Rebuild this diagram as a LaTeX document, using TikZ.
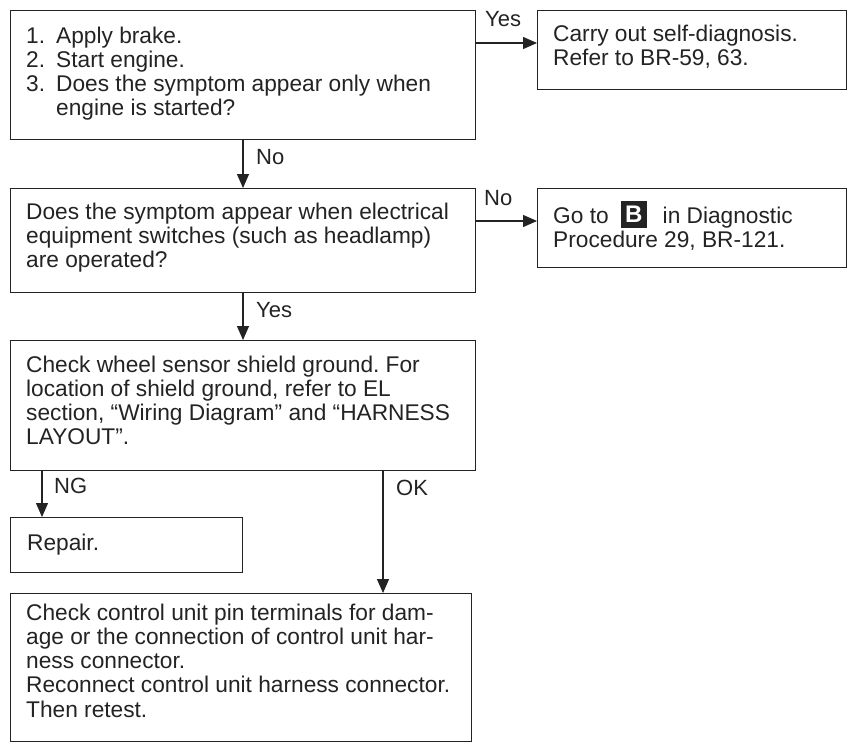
\documentclass[tikz,border=0pt]{standalone}
\usepackage{fontspec}
\setmainfont{Liberation Sans}
\usetikzlibrary{arrows.meta,calc}
\definecolor{ink}{RGB}{35,35,35}
\frenchspacing
\newcommand\fs{\rule{0pt}{17pt}}
\newcommand\Bicon{\raisebox{-5pt}{\setlength\fboxsep{0pt}\colorbox{ink}{\parbox[b][27pt][c]{26pt}{\centering\color{white}\fontsize{24}{24}\selectfont\bfseries B}}}}
\begin{document}
\begin{tikzpicture}[x=1pt,y=-1pt,
  box/.style={draw=ink, line width=1.3pt, anchor=north west, inner sep=0pt},
  txt/.style={anchor=north west, inner sep=0pt, align=left, text=ink, font=\fontsize{22.7}{24.2}\selectfont\frenchspacing},
  lbl/.style={anchor=base west, inner sep=0pt, text=ink, font=\fontsize{22}{24}\selectfont},
  arr/.style={draw=ink, line width=1.3pt, -{Triangle[length=14pt,width=12pt]}}]
\useasboundingbox (0,0) rectangle (848,744);
% boxes
\node[box, minimum width=465pt, minimum height=129pt] (b1) at (10,10) {};
\node[box, minimum width=309pt, minimum height=79pt] (b2) at (537,10) {};
\node[box, minimum width=465pt, minimum height=104pt] (b3) at (10,188) {};
\node[box, minimum width=309pt, minimum height=79pt] (b4) at (537,188) {};
\node[box, minimum width=465pt, minimum height=130pt] (b5) at (10,340) {};
\node[box, minimum width=232pt, minimum height=55pt] (b6) at (10,517) {};
\node[box, minimum width=461pt, minimum height=148pt] (b7) at (10,593) {};
% texts
\node[txt] (t1) at (26,26) {\fs\makebox[30pt][l]{1.}Apply brake.\\
  \makebox[30pt][l]{2.}Start engine.\\
  \makebox[30pt][l]{3.}Does the symptom appear only when\\
  \hspace*{30pt}engine is started?};
\node[txt] (t2) at (553,24) {\fs Carry out self-diagnosis.\\Refer to BR-59, 63.};
\node[txt] (t3) at (26,202) {\fs Does the symptom appear when electrical\\equipment switches (such as headlamp)\\are operated?};
\node[txt] (t4) at (553,201) {\fs Go to\hspace{12pt}\Bicon\hspace{16pt}in Diagnostic\\Procedure 29, BR-121.};
\node[txt] (t5) at (26,355) {\fs Check wheel sensor shield ground. For\\location of shield ground, refer to EL\\section, “Wiring Diagram” and “HARNESS\\LAYOUT”.};
\node[txt] (t6) at (27,533) {\fs Repair.};
\node[txt] (t7) at (26,603) {\fs Check control unit pin terminals for dam-\\age or the connection of control unit har-\\ness connector.\\Reconnect control unit harness connector.\\Then retest.};
% connectors
\draw[arr] ([yshift=-33pt]b1.north east) -- ([yshift=-33pt]b2.north west);
\draw[arr] ([xshift=233pt]b1.south west) -- ([xshift=233pt]b3.north west);
\draw[arr] ([yshift=-33pt]b3.north east) -- ([yshift=-33pt]b4.north west);
\draw[arr] ([xshift=233pt]b3.south west) -- ([xshift=233pt]b5.north west);
\draw[arr] ([xshift=32pt]b5.south west) -- ([xshift=32pt]b6.north west);
\draw[arr] ([xshift=373pt]b5.south west) -- ([xshift=373pt]b7.north west);
% labels
\node[lbl] (l1) at (485,27) {Yes};
\node[lbl] (l2) at (256,164) {No};
\node[lbl] (l3) at (484,205) {No};
\node[lbl] (l4) at (256,317) {Yes};
\node[lbl] (l5) at (54,493) {NG};
\node[lbl] (l6) at (396,495) {OK};
\end{tikzpicture}
\end{document}
